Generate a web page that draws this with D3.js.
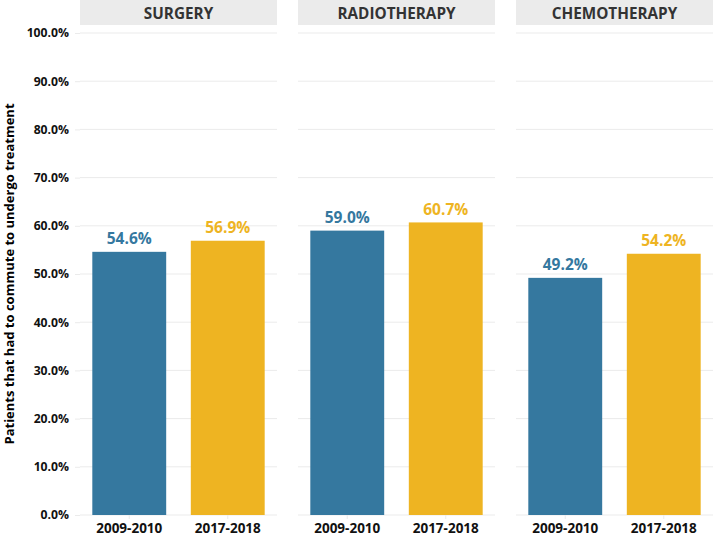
<!DOCTYPE html>
<html><head><meta charset="utf-8">
<script src="https://cdn.jsdelivr.net/npm/d3@7"></script>
<style>body{margin:0;background:#fff}svg{display:block}text{font-family:"Open Sans",Lato,sans-serif;font-weight:bold}</style>
</head><body>
<svg id="c" width="714" height="536"></svg>
<script>
const treatments = ["SURGERY","RADIOTHERAPY","CHEMOTHERAPY"];
const periods = ["2009-2010","2017-2018"];
const values2009 = [54.6, 59.0, 49.2];
const values2017 = [56.9, 60.7, 54.2];
const yTicks = [0,10,20,30,40,50,60,70,80,90,100];
const colors = ["#35789f","#eeb422"];

const svg = d3.select("#c");
const panelLeft=80, panelRight=713, panelGap=21, plotTop=33, plotBottom=515;
const panelW=(panelRight-panelLeft-2*panelGap)/3;
const y=d3.scaleLinear().domain([0,100]).range([plotBottom,plotTop]);

const ya=svg.append("g").attr("transform",`translate(${panelLeft},0)`)
  .call(d3.axisLeft(y).tickValues(yTicks).tickFormat(d=>d.toFixed(1)+"%").tickSize(5).tickPadding(6));
ya.select(".domain").remove();
ya.selectAll(".tick line").attr("stroke","#ebebeb");
ya.selectAll(".tick text").attr("fill","#111").style("font-size","12.2px");

svg.append("text").attr("transform",`translate(14,${(plotTop+plotBottom)/2}) rotate(-90)`)
  .attr("text-anchor","middle").style("font-size","13px").attr("fill","#000")
  .text("Patients that had to commute to undergo treatment");

treatments.forEach((t,i)=>{
  const x0=panelLeft+i*(panelW+panelGap);
  const g=svg.append("g");
  g.append("rect").attr("x",x0).attr("y",0).attr("width",panelW).attr("height",25).attr("fill","#ebebeb");
  g.append("text").attr("x",x0+panelW/2).attr("y",18.5).attr("text-anchor","middle")
    .style("font-size","15.3px").attr("fill","#333").text(t);
  g.selectAll("line.grid").data(yTicks).join("line").attr("class","grid")
    .attr("x1",x0).attr("x2",x0+panelW).attr("y1",d=>y(d)).attr("y2",d=>y(d))
    .attr("stroke","#ebebeb").attr("stroke-width",1);
  const x=d3.scaleBand().domain(periods).range([x0,x0+panelW]).paddingInner(0.25).paddingOuter(0.125);
  const vals=[values2009[i],values2017[i]];
  g.selectAll("rect.bar").data(periods).join("rect").attr("class","bar")
    .attr("x",d=>x(d)).attr("width",x.bandwidth())
    .attr("y",(d,j)=>y(vals[j])).attr("height",(d,j)=>y(0)-y(vals[j]))
    .attr("fill",(d,j)=>colors[j]);
  g.selectAll("text.val").data(periods).join("text").attr("class","val")
    .attr("x",d=>x(d)+x.bandwidth()/2).attr("y",(d,j)=>y(vals[j])-7.5)
    .attr("text-anchor","middle").style("font-size","15.5px").attr("fill",(d,j)=>colors[j])
    .text((d,j)=>vals[j].toFixed(1)+"%");
  const xa=g.append("g").attr("transform",`translate(0,${plotBottom})`)
    .call(d3.axisBottom(x).tickSize(4).tickPadding(4));
  xa.select(".domain").remove();
  xa.selectAll(".tick line").attr("stroke","#ebebeb");
  xa.selectAll(".tick text").attr("fill","#111").style("font-size","13.5px");
});
</script>
</body></html>
